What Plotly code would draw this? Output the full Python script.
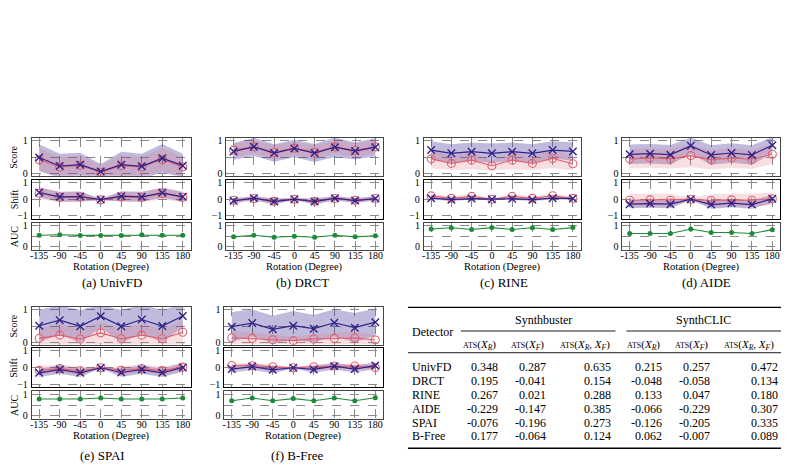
import plotly.graph_objects as go

# ---------------- data ----------------
rotations = [-135, -90, -45, 0, 45, 90, 135, 180]
rotation_labels = ["-135", "-90", "-45", "0", "45", "90", "135", "180"]
detectors = ["UnivFD", "DRCT", "RINE", "AIDE", "SPAI", "B-Free"]
captions = ["(a) UnivFD", "(b) DRCT", "(c) RINE", "(d) AIDE", "(e) SPAI", "(f) B-Free"]

# blue "x" series
score_fake = {
    "UnivFD": [0.49, 0.23, 0.27, 0.06, 0.27, 0.22, 0.47, 0.24],
    "DRCT":   [0.68, 0.82, 0.63, 0.77, 0.63, 0.81, 0.69, 0.81],
    "RINE":   [0.72, 0.62, 0.67, 0.62, 0.67, 0.62, 0.72, 0.68],
    "AIDE":   [0.59, 0.61, 0.58, 0.85, 0.57, 0.63, 0.57, 0.87],
    "SPAI":   [0.51, 0.68, 0.49, 0.80, 0.49, 0.70, 0.50, 0.81],
    "B-Free": [0.48, 0.59, 0.40, 0.51, 0.42, 0.60, 0.45, 0.62],
}
score_fake_std = {
    "UnivFD": [0.41, 0.38, 0.37, 0.23, 0.40, 0.39, 0.44, 0.37],
    "DRCT":   [0.26, 0.28, 0.27, 0.27, 0.28, 0.30, 0.26, 0.28],
    "RINE":   [0.27, 0.28, 0.28, 0.30, 0.28, 0.28, 0.27, 0.28],
    "AIDE":   [0.30, 0.30, 0.30, 0.25, 0.30, 0.30, 0.30, 0.25],
    "SPAI":   [0.50, 0.45, 0.50, 0.35, 0.50, 0.45, 0.50, 0.35],
    "B-Free": [0.45, 0.42, 0.42, 0.45, 0.42, 0.42, 0.45, 0.42],
}
# red "o" series
score_real = {
    "UnivFD": [0.42, 0.20, 0.25, 0.04, 0.24, 0.20, 0.43, 0.20],
    "DRCT":   [0.72, 0.82, 0.65, 0.78, 0.65, 0.82, 0.71, 0.82],
    "RINE":   [0.45, 0.31, 0.41, 0.24, 0.41, 0.31, 0.46, 0.30],
    "AIDE":   [0.45, 0.48, 0.45, 0.55, 0.42, 0.48, 0.44, 0.59],
    "SPAI":   [0.12, 0.22, 0.10, 0.29, 0.11, 0.22, 0.11, 0.31],
    "B-Free": [0.14, 0.12, 0.08, 0.05, 0.10, 0.12, 0.13, 0.07],
}
score_real_std = {
    "UnivFD": [0.35, 0.30, 0.30, 0.20, 0.32, 0.30, 0.36, 0.30],
    "DRCT":   [0.22, 0.20, 0.22, 0.20, 0.22, 0.20, 0.22, 0.20],
    "RINE":   [0.30, 0.20, 0.28, 0.14, 0.28, 0.20, 0.30, 0.20],
    "AIDE":   [0.30, 0.30, 0.30, 0.35, 0.30, 0.30, 0.30, 0.30],
    "SPAI":   [0.30, 0.35, 0.30, 0.35, 0.30, 0.35, 0.30, 0.35],
    "B-Free": [0.20, 0.18, 0.15, 0.12, 0.15, 0.18, 0.20, 0.15],
}
shift_fake = {
    "UnivFD": [0.40, 0.14, 0.16, -0.02, 0.18, 0.14, 0.38, 0.14],
    "DRCT":   [-0.10, 0.06, -0.14, 0.00, -0.14, 0.06, -0.08, 0.04],
    "RINE":   [0.06, -0.03, 0.04, 0.00, 0.03, -0.03, 0.06, 0.04],
    "AIDE":   [-0.30, -0.26, -0.30, 0.00, -0.32, -0.24, -0.32, 0.02],
    "SPAI":   [-0.30, -0.11, -0.30, 0.00, -0.28, -0.11, -0.30, 0.02],
    "B-Free": [-0.08, 0.07, -0.12, 0.00, -0.10, 0.09, -0.08, 0.13],
}
shift_fake_std = {
    "UnivFD": [0.30, 0.30, 0.30, 0.05, 0.30, 0.30, 0.30, 0.30],
    "DRCT":   [0.15, 0.12, 0.20, 0.04, 0.20, 0.12, 0.15, 0.12],
    "RINE":   [0.08, 0.08, 0.08, 0.03, 0.08, 0.08, 0.08, 0.08],
    "AIDE":   [0.25, 0.25, 0.25, 0.05, 0.25, 0.25, 0.25, 0.25],
    "SPAI":   [0.25, 0.25, 0.25, 0.05, 0.25, 0.25, 0.25, 0.25],
    "B-Free": [0.20, 0.20, 0.20, 0.05, 0.20, 0.20, 0.20, 0.20],
}
shift_real = {
    "UnivFD": [0.36, 0.12, 0.14, -0.04, 0.14, 0.12, 0.34, 0.12],
    "DRCT":   [-0.06, 0.04, -0.13, 0.00, -0.13, 0.04, -0.07, 0.04],
    "RINE":   [0.20, 0.05, 0.17, 0.00, 0.17, 0.05, 0.21, 0.05],
    "AIDE":   [-0.06, -0.04, -0.06, 0.00, -0.08, -0.04, -0.06, 0.03],
    "SPAI":   [-0.15, -0.05, -0.18, 0.00, -0.15, -0.05, -0.17, 0.04],
    "B-Free": [0.13, 0.12, 0.06, 0.00, 0.06, 0.10, 0.10, 0.01],
}
shift_real_std = {
    "UnivFD": [0.35, 0.30, 0.30, 0.05, 0.30, 0.30, 0.35, 0.30],
    "DRCT":   [0.12, 0.12, 0.12, 0.04, 0.12, 0.12, 0.12, 0.12],
    "RINE":   [0.12, 0.12, 0.12, 0.04, 0.12, 0.12, 0.12, 0.12],
    "AIDE":   [0.38, 0.38, 0.38, 0.10, 0.38, 0.38, 0.38, 0.38],
    "SPAI":   [0.25, 0.25, 0.25, 0.05, 0.25, 0.25, 0.25, 0.25],
    "B-Free": [0.15, 0.15, 0.15, 0.05, 0.15, 0.15, 0.15, 0.15],
}
auc = {
    "UnivFD": [0.55, 0.57, 0.54, 0.54, 0.54, 0.57, 0.55, 0.55],
    "DRCT":   [0.47, 0.55, 0.45, 0.50, 0.45, 0.55, 0.47, 0.52],
    "RINE":   [0.85, 0.91, 0.83, 0.92, 0.83, 0.91, 0.83, 0.92],
    "AIDE":   [0.63, 0.63, 0.63, 0.85, 0.68, 0.68, 0.63, 0.82],
    "SPAI":   [0.78, 0.78, 0.78, 0.83, 0.78, 0.78, 0.78, 0.83],
    "B-Free": [0.70, 0.83, 0.70, 0.80, 0.70, 0.83, 0.70, 0.84],
}

# table
table_detectors = ["UnivFD", "DRCT", "RINE", "AIDE", "SPAI", "B-Free"]
sb_ats_r = [0.348, 0.195, 0.267, -0.229, -0.076, 0.177]
sb_ats_f = [0.287, -0.041, 0.021, -0.147, -0.196, -0.064]
sb_ats_rf = [0.635, 0.154, 0.288, 0.385, 0.273, 0.124]
sc_ats_r = [0.215, -0.048, 0.133, -0.066, -0.126, 0.062]
sc_ats_f = [0.257, -0.058, 0.047, -0.229, -0.205, -0.007]
sc_ats_rf = [0.472, 0.134, 0.180, 0.307, 0.335, 0.089]

# ---------------- layout helpers ----------------
W, H = 790, 467
FONT = "Liberation Serif, Times New Roman, serif"
BLUE = "#332288"
RED = "#E0606F"
GREEN = "#1E8A3A"
BLUE_FILL = "rgba(60,45,150,0.32)"
RED_FILL = "rgba(224,110,125,0.22)"
GRID = "#8a8a8a"


def fx(px):
    return px / W


def fy(py):
    return 1 - py / H


panel_x = [(30, 189), (225, 382), (423, 580), (622, 780), (30, 189), (223, 382)]
panel_row = [0, 0, 0, 0, 1, 1]
row_boxes = [
    {"score": (136.5, 175), "shift": (179, 218.5), "auc": (222.5, 250), "xlabel": 267, "cap": 283.5},
    {"score": (307.5, 346), "shift": (349.5, 389.5), "auc": (393, 421.5), "xlabel": 438.5, "cap": 458.5},
]
caption_x = [110, 301, 503, 706, 101, 296]

fig = go.Figure()
layout = dict(
    width=W, height=H, margin=dict(l=0, r=0, t=0, b=0),
    paper_bgcolor="white", plot_bgcolor="white", showlegend=False,
    font=dict(family=FONT, size=10, color="black"),
)
annotations = []
shapes = []


def band(xa, ya, mean, std, fill):
    lo = [m - s for m, s in zip(mean, std)]
    hi = [m + s for m, s in zip(mean, std)]
    fig.add_trace(go.Scatter(x=rotations, y=lo, xaxis=xa, yaxis=ya, mode="lines",
                             line=dict(width=0, color=fill), hoverinfo="skip"))
    fig.add_trace(go.Scatter(x=rotations, y=hi, xaxis=xa, yaxis=ya, mode="lines",
                             line=dict(width=0, color=fill), fill="tonexty",
                             fillcolor=fill, hoverinfo="skip"))


def series_pair(xa, ya, blue_vals, red_vals):
    fig.add_trace(go.Scatter(x=rotations, y=red_vals, xaxis=xa, yaxis=ya,
                             mode="lines+markers",
                             line=dict(color=RED, width=1.1),
                             marker=dict(symbol="circle-open", size=8, color=RED,
                                         line=dict(width=1.1, color=RED))))
    fig.add_trace(go.Scatter(x=rotations, y=blue_vals, xaxis=xa, yaxis=ya,
                             mode="lines+markers",
                             line=dict(color=BLUE, width=1.2),
                             marker=dict(symbol="x-thin", size=7.5, color=BLUE,
                                         line=dict(width=1.4, color=BLUE))))


for p, det in enumerate(detectors):
    x0, x1 = panel_x[p]
    rb = row_boxes[panel_row[p]]
    specs = [
        ("score", [-0.07, 1.1], [0, 1], ["0", "1"], [0.5], "#444444", 1.1, "Score"),
        ("shift", [-1.17, 1.17], [-1, 0, 1], ["\u22121", "0", "1"], [], "#000000", 1.3, "Shift"),
        ("auc", [-0.16, 1.16], [0, 1], ["0", "1"], [0.5], "#444444", 1.1, "AUC"),
    ]
    for j, (kind, yr, tv, tt, mv, lc, lw, title) in enumerate(specs):
        k = 3 * p + j + 1
        sfx = "" if k == 1 else str(k)
        xa, ya = "x" + sfx, "y" + sfx
        y0, y1 = rb[kind]
        xax = dict(
            domain=[fx(x0), fx(x1)], range=[-151, 197], anchor=ya,
            tickmode="array", tickvals=rotations, ticks="", tickangle=0,
            showgrid=True, gridcolor=GRID, griddash="dash", gridwidth=0.8,
            zeroline=False, showline=True, mirror=True, linecolor=lc, linewidth=lw,
            tickfont=dict(family=FONT, size=10, color="black"), fixedrange=True,
        )
        if kind == "auc":
            xax.update(ticktext=rotation_labels, showticklabels=True, ticklabelstandoff=-4)
        else:
            xax.update(showticklabels=False)
        layout["xaxis" + sfx] = xax
        yax = dict(
            domain=[fy(y1), fy(y0)], range=yr, anchor=xa,
            tickmode="array", tickvals=tv, ticktext=tt, ticks="",
            showgrid=True, gridcolor=GRID, griddash="dash", gridwidth=0.8,
            zeroline=False, showline=True, mirror=True, linecolor=lc, linewidth=lw,
            tickfont=dict(family=FONT, size=10, color="black"), ticklabelstandoff=1,
            fixedrange=True,
        )
        if mv:
            yax["minor"] = dict(tickmode="array", tickvals=mv, showgrid=True,
                                gridcolor=GRID, griddash="dash", gridwidth=0.8, ticks="")
        layout["yaxis" + sfx] = yax
        if kind == "score":
            band(xa, ya, score_fake[det], score_fake_std[det], BLUE_FILL)
            band(xa, ya, score_real[det], score_real_std[det], RED_FILL)
            series_pair(xa, ya, score_fake[det], score_real[det])
        elif kind == "shift":
            band(xa, ya, shift_fake[det], shift_fake_std[det], BLUE_FILL)
            band(xa, ya, shift_real[det], shift_real_std[det], RED_FILL)
            series_pair(xa, ya, shift_fake[det], shift_real[det])
        else:
            fig.add_trace(go.Scatter(x=rotations, y=auc[det], xaxis=xa, yaxis=ya,
                                     mode="lines+markers",
                                     line=dict(color=GREEN, width=1.1),
                                     marker=dict(symbol="circle", size=5, color=GREEN)))
        if p in (0, 4):
            annotations.append(dict(
                text=title, x=fx(12), y=fy((y0 + y1) / 2), xref="paper", yref="paper",
                showarrow=False, textangle=-90, xanchor="center", yanchor="middle",
                font=dict(family=FONT, size=10, color="black")))
    annotations.append(dict(
        text="Rotation (Degree)", x=fx((x0 + x1) / 2), y=fy(rb["xlabel"]),
        xref="paper", yref="paper", showarrow=False, xanchor="center", yanchor="middle",
        font=dict(family=FONT, size=10.5, color="black")))
    annotations.append(dict(
        text=captions[p], x=fx(caption_x[p]), y=fy(rb["cap"]),
        xref="paper", yref="paper", showarrow=False, xanchor="center", yanchor="middle",
        font=dict(family=FONT, size=13, color="black")))

# ---------------- table ----------------
TL, TR = 407, 781


def hline(xa, xb, y, w):
    shapes.append(dict(type="line", xref="paper", yref="paper",
                       x0=fx(xa), x1=fx(xb), y0=fy(y), y1=fy(y),
                       line=dict(color="black", width=w)))


hline(TL, TR, 308.3, 1.4)
hline(460, 615, 332.3, 0.9)
hline(626, TR, 332.3, 0.9)
hline(TL, TR, 354.3, 0.9)
hline(TL, TR, 451, 1.4)


def txt(s, x, y, anchor, size=12):
    annotations.append(dict(text=s, x=fx(x), y=fy(y), xref="paper", yref="paper",
                            showarrow=False, xanchor=anchor, yanchor="middle",
                            font=dict(family=FONT, size=size, color="black")))


txt("Detector", 409, 333, "left")
txt("Synthbuster", 543, 321, "center")
txt("SynthCLIC", 703, 321, "center")

ats = '<span style="font-size:8px">ATS</span>'
sub_r = ats + "(<i>X</i><sub><i>R</i></sub>)"
sub_f = ats + "(<i>X</i><sub><i>F</i></sub>)"
sub_rf = ats + "(<i>X</i><sub><i>R</i></sub>, <i>X</i><sub><i>F</i></sub>)"
sub_headers = [sub_r, sub_f, sub_rf, sub_r, sub_f, sub_rf]
sub_centers = [479, 527, 584, 643, 691, 749]
for s, cx in zip(sub_headers, sub_centers):
    txt(s, cx, 346.5, "center", size=11)

col_right = [499, 547, 613, 664, 712, 780]
columns = [sb_ats_r, sb_ats_f, sb_ats_rf, sc_ats_r, sc_ats_f, sc_ats_rf]
row_y = [369, 383.3, 396.8, 410.8, 425, 439]
for i, det in enumerate(table_detectors):
    txt(det, 409, row_y[i], "left")
    for c, col in enumerate(columns):
        txt(f"{col[i]:.3f}", col_right[c], row_y[i], "right")

layout["annotations"] = annotations
layout["shapes"] = shapes
fig.update_layout(**layout)
fig.write_html("out.html")
